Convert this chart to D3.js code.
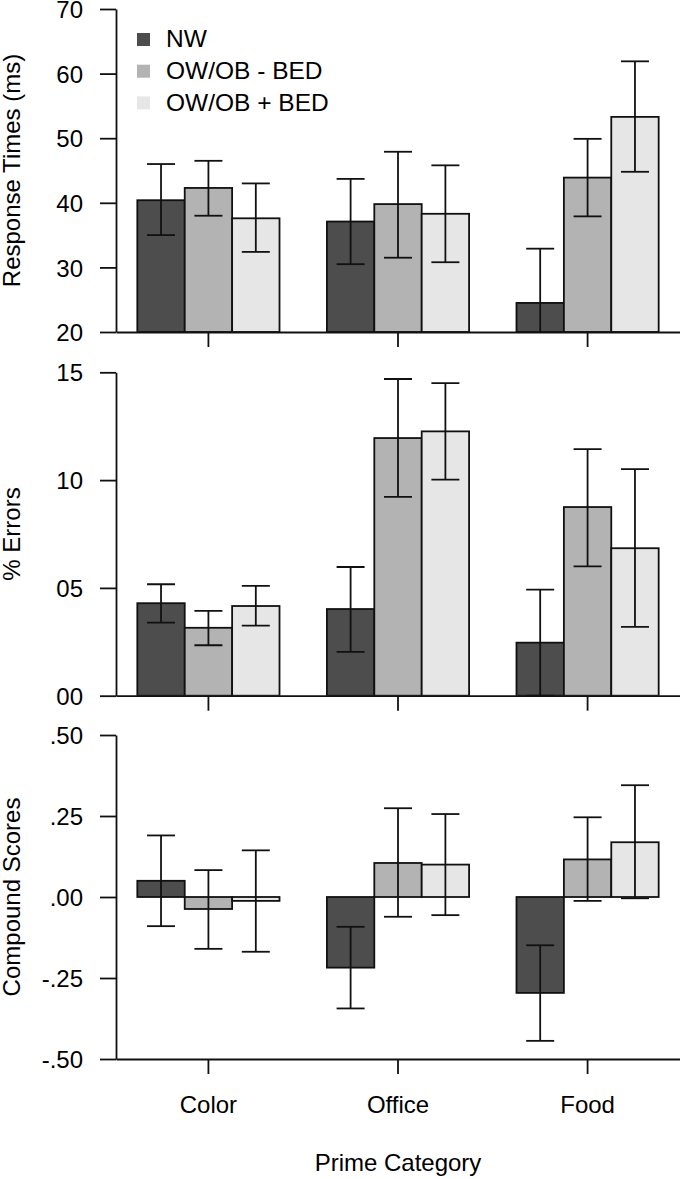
<!DOCTYPE html>
<html>
<head>
<meta charset="utf-8">
<script src="https://cdn.jsdelivr.net/npm/d3@7/dist/d3.min.js"></script>
<style>
  html, body { margin: 0; padding: 0; background: #fff; }
  svg { display: block; }
  text { font-family: "Liberation Sans", Arial, Helvetica, sans-serif; fill: #000; }
</style>
</head>
<body>
<svg id="chart" width="680" height="1179"></svg>
<script>
// ---------------- DATA ----------------
const categories = ["Color", "Office", "Food"];
const series = ["NW", "OW/OB - BED", "OW/OB + BED"];
const seriesColors = ["#4d4d4d", "#b3b3b3", "#e6e6e6"];

// Response times (ms): rows = categories, cols = series
const rtMean = [[40.4, 42.3, 37.6], [37.1, 39.8, 38.3], [24.5, 43.9, 53.3]];
const rtLow  = [[35.0, 38.0, 32.4], [30.5, 31.5, 30.8], [16.1, 37.9, 44.8]];
const rtHigh = [[46.0, 46.5, 43.0], [43.7, 47.9, 45.8], [32.9, 49.9, 61.9]];
const rtTicks = [20, 30, 40, 50, 60, 70];
const rtTickLabels = ["20", "30", "40", "50", "60", "70"];

// % Errors
const errMean = [[4.29, 3.15, 4.16], [4.02, 11.95, 12.26], [2.46, 8.75, 6.84]];
const errLow  = [[3.39, 2.34, 3.25], [2.03, 9.22, 10.02], [0.00, 6.00, 3.19]];
const errHigh = [[5.17, 3.93, 5.09], [5.97, 14.69, 14.50], [4.92, 11.44, 10.51]];
const errTicks = [0, 5, 10, 15];
const errTickLabels = ["00", "05", "10", "15"];

// Compound scores
const csMean = [[0.050, -0.037, -0.012], [-0.218, 0.105, 0.100], [-0.296, 0.116, 0.169]];
const csLow  = [[-0.090, -0.160, -0.169], [-0.344, -0.061, -0.056], [-0.444, -0.012, -0.004]];
const csHigh = [[0.190, 0.083, 0.144], [-0.092, 0.274, 0.256], [-0.149, 0.246, 0.345]];
const csTicks = [-0.5, -0.25, 0, 0.25, 0.5];
const csTickLabels = ["-.50", "-.25", ".00", ".25", ".50"];

const xTitle = "Prime Category";

// ---------------- LAYOUT ----------------
const svg = d3.select("#chart");
const FS = 24;
const axisX = 116, rightX = 680;

const x0 = d3.scaleBand().domain(categories).range([axisX, rightX])
  .paddingInner(0.25).paddingOuter(0.1125);
const x1 = d3.scaleBand().domain(series).range([0, x0.bandwidth()]).padding(0);

const panels = [
  { id: "rt", title: "Response Times (ms)", mean: rtMean, low: rtLow, high: rtHigh,
    domain: [20, 70], range: [332, 9], ticks: rtTicks, labels: rtTickLabels, legend: true },
  { id: "err", title: "% Errors", mean: errMean, low: errLow, high: errHigh,
    domain: [0, 15], range: [695.7, 372.3], ticks: errTicks, labels: errTickLabels },
  { id: "cs", title: "Compound Scores", mean: csMean, low: csLow, high: csHigh,
    domain: [-0.5, 0.5], range: [1059, 735], ticks: csTicks, labels: csTickLabels, xlabels: true }
];

const SW = 1.8;
const capHalf = 14;

panels.forEach((p, pi) => {
  const y = d3.scaleLinear().domain(p.domain).range(p.range);
  const g = svg.append("g");
  const base = Math.max(p.domain[0], 0);
  const bottomY = y(p.domain[0]);

  // clip
  const clipId = "clip-" + p.id;
  svg.append("clipPath").attr("id", clipId)
    .append("rect").attr("x", axisX).attr("y", p.range[1] - 2)
    .attr("width", rightX - axisX).attr("height", bottomY - p.range[1] + 2);

  const plot = g.append("g").attr("clip-path", `url(#${clipId})`);

  const rows = [];
  categories.forEach((c, ci) => series.forEach((s, si) => {
    rows.push({ c, s, si, v: p.mean[ci][si], lo: p.low[ci][si], hi: p.high[ci][si] });
  }));

  // bars
  plot.selectAll("rect.bar").data(rows).join("rect")
    .attr("class", "bar")
    .attr("x", d => x0(d.c) + x1(d.s))
    .attr("width", x1.bandwidth())
    .attr("y", d => Math.min(y(d.v), y(base)))
    .attr("height", d => Math.abs(y(d.v) - y(base)))
    .attr("fill", d => seriesColors[d.si])
    .attr("stroke", "#111")
    .attr("stroke-width", SW);

  // error bars
  const eb = plot.selectAll("g.eb").data(rows).join("g").attr("class", "eb")
    .attr("stroke", "#111").attr("stroke-width", SW).attr("fill", "none");
  const cx = d => x0(d.c) + x1(d.s) + x1.bandwidth() / 2;
  eb.append("line").attr("x1", cx).attr("x2", cx)
    .attr("y1", d => y(d.lo)).attr("y2", d => y(d.hi));
  eb.append("line").attr("x1", d => cx(d) - capHalf).attr("x2", d => cx(d) + capHalf)
    .attr("y1", d => y(d.hi)).attr("y2", d => y(d.hi));
  eb.append("line").attr("x1", d => cx(d) - capHalf).attr("x2", d => cx(d) + capHalf)
    .attr("y1", d => y(d.lo)).attr("y2", d => y(d.lo));

  // y axis
  const yAxis = d3.axisLeft(y).tickValues(p.ticks)
    .tickFormat((d, i) => p.labels[i])
    .tickSize(16).tickSizeOuter(0).tickPadding(17);
  const ya = g.append("g").attr("transform", `translate(${axisX},0)`).call(yAxis);
  ya.select(".domain").attr("stroke", "#111").attr("stroke-width", SW);
  ya.selectAll(".tick line").attr("stroke", "#111").attr("stroke-width", SW);
  ya.selectAll(".tick text").attr("font-size", FS).attr("fill", "#000").attr("dy", "0.36em")
    .attr("font-family", "Liberation Sans, Arial, sans-serif");

  // x axis
  const xAxis = d3.axisBottom(x0).tickSize(15).tickSizeOuter(0).tickPadding(22)
    .tickFormat(p.xlabels ? (d => d) : (() => ""));
  const xa = g.append("g").attr("transform", `translate(0,${bottomY})`).call(xAxis);
  xa.select(".domain").attr("stroke", "#111").attr("stroke-width", SW);
  xa.selectAll(".tick line").attr("stroke", "#111").attr("stroke-width", SW);
  xa.selectAll(".tick text").attr("font-size", FS).attr("fill", "#000")
    .attr("font-family", "Liberation Sans, Arial, sans-serif");

  // y title
  const midY = (p.range[0] + p.range[1]) / 2;
  g.append("text")
    .attr("transform", `translate(20,${midY}) rotate(-90)`)
    .attr("text-anchor", "middle")
    .attr("font-size", FS)
    .text(p.title);

  // legend
  if (p.legend) {
    const lg = g.append("g");
    series.forEach((s, i) => {
      const by = 47.3 + i * 31.7;
      lg.append("rect").attr("x", 137).attr("y", by - 14.3).attr("width", 13).attr("height", 13)
        .attr("fill", seriesColors[i]);
      lg.append("text").attr("x", 166).attr("y", by).attr("font-size", 24.5).text(s);
    });
  }
});

// x title
svg.append("text")
  .attr("x", x0("Office") + x0.bandwidth() / 2)
  .attr("y", 1171)
  .attr("text-anchor", "middle")
  .attr("font-size", FS)
  .text(xTitle);
</script>
</body>
</html>
